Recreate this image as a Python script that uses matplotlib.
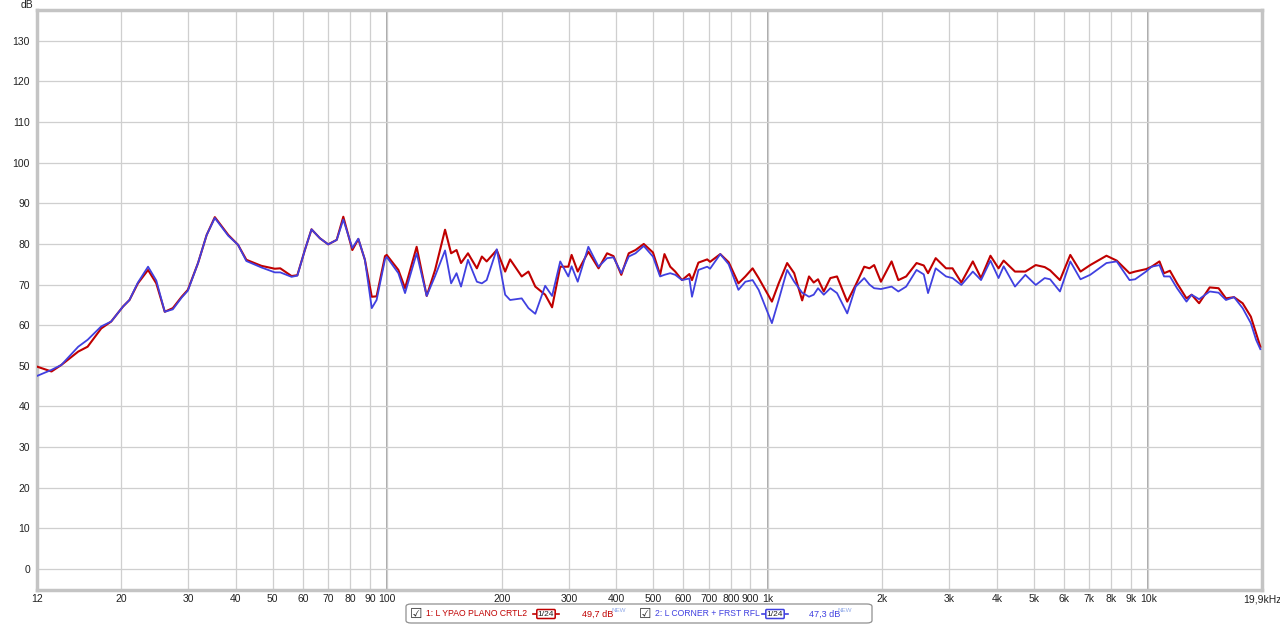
import matplotlib.pyplot as plt
from matplotlib.patches import FancyBboxPatch

# frequency response readings (Hz, dB)
freq = [12.0, 13.1, 13.9, 15.4, 16.3, 17.7, 18.8, 20.2, 21.0, 22.1, 23.5, 24.7, 26.0, 27.3,
        28.8, 29.9, 31.8, 33.5, 35.2, 38.2, 40.5, 42.6, 46.7, 50.6, 52.3, 56.0, 58.0, 60.7,
        63.2, 66.5, 69.9, 73.6, 76.6, 80.9, 83.9, 87.3, 91.0, 93.7, 98.6,
        99.6, 106.9, 111.3, 119.4, 126.9, 133.5, 141.8, 147.1, 152, 156.2, 162.9, 171.9,
        177.2, 182.4, 193.9, 204, 210.2, 225.5, 234.9, 244.8, 259.9, 271, 284.7, 299, 305,
        316.5, 337.5, 359, 378, 393, 412, 431, 449, 472, 499, 521, 535, 554, 571, 595, 622,
        632, 657, 693, 705, 750, 789, 837, 873, 912, 946, 1025, 1068,
        1124, 1173, 1231, 1283, 1320, 1355, 1403, 1460, 1520, 1617, 1702, 1792, 1850, 1903,
        1983, 2115, 2203, 2310, 2460, 2570, 2637, 2762, 2940, 3058, 3226, 3458, 3634, 3847,
        4040, 4167, 4463, 4752, 5060, 5342, 5520, 5859, 6237, 6635, 7037, 7763, 8260, 8926,
        9233, 9864, 10200, 10700, 11000, 11400, 11900, 12600, 13000, 13600, 14500, 15300,
        16000, 16800, 17700, 18600, 19200, 19700]

ypao_db = [49.8, 48.6, 50.2, 53.5, 54.7, 59.2, 60.9, 64.6, 66.2, 70.3, 73.6, 70.3, 63.3, 64.2,
           67.0, 68.7, 75.3, 82.2, 86.6, 82.2, 79.8, 76.1, 74.6, 73.9, 74.0, 72.1, 72.3, 78.5,
           83.6, 81.4, 79.9, 81.0, 86.7, 78.5, 81.2, 76.1, 67.0, 67.1, 77.0,
           77.3, 73.6, 69.1, 79.3, 67.2, 73.6, 83.5, 77.7, 78.5, 75.3, 77.7, 74.0,
           76.9, 75.7, 78.5, 73.2, 76.2, 72.0, 73.2, 69.5, 67.5, 64.4, 74.4, 74.4, 77.3,
           73.2, 78.1, 74.0, 77.7, 77.0, 72.4, 77.7, 78.5, 80.0, 77.9, 72.4, 77.5, 74.4, 73.2, 71.1, 72.6,
           71.1, 75.4, 76.2, 75.6, 77.5, 75.5, 70.3, 72.0, 74.0, 71.6, 65.8, 70.3,
           75.3, 72.8, 66.1, 72.0, 70.5, 71.3, 68.3, 71.6, 72.0, 65.8, 69.9, 74.4, 74.0, 74.8,
           70.7, 75.7, 71.1, 72.0, 75.3, 74.7, 72.8, 76.5, 74.0, 74.0, 70.5, 75.7, 71.6, 77.1,
           74.0, 75.9, 73.2, 73.2, 74.8, 74.3, 73.5, 71.1, 77.3, 73.2, 74.8, 77.1, 75.9, 72.8,
           73.2, 73.8, 74.4, 75.7, 72.8, 73.4, 70.3, 66.6, 67.5, 65.4, 69.3, 69.1,
           66.6, 66.9, 65.4, 62.1, 58.0, 54.7]

corner_db = [47.5, 49.0, 50.2, 54.7, 56.4, 59.7, 60.9, 64.6, 66.2, 70.5, 74.4, 71.0, 63.3, 63.9,
             66.8, 68.5, 75.3, 82.2, 86.4, 82.0, 79.8, 75.8, 74.2, 73.0, 73.0, 71.9, 72.2, 78.5,
             83.6, 81.4, 79.9, 81.0, 86.0, 79.0, 81.3, 76.1, 64.2, 66.2, 76.2,
             76.8, 72.8, 67.9, 77.7, 67.2, 72.1, 78.4, 70.3, 72.8, 69.5, 76.1, 70.7,
             70.3, 71.1, 78.7, 67.5, 66.2, 66.6, 64.2, 62.8, 69.7, 67.2, 75.7, 72.0, 74.5,
             70.7, 79.3, 74.4, 76.5, 76.7, 72.8, 76.9, 77.7, 79.5, 76.9, 72.0, 72.4, 72.8, 72.4, 71.1, 71.5,
             67.0, 73.6, 74.4, 73.9, 77.5, 75.0, 68.7, 70.7, 71.1, 68.7, 60.5, 66.2,
             73.6, 70.7, 68.0, 67.0, 67.5, 69.1, 67.5, 69.1, 67.9, 62.9, 69.5, 71.6, 70.0, 69.1,
             68.9, 69.5, 68.3, 69.5, 73.6, 72.5, 67.9, 74.0, 72.0, 71.6, 69.9, 73.2, 71.1, 75.9,
             71.6, 74.5, 69.5, 72.4, 69.9, 71.6, 71.3, 68.3, 75.7, 71.3, 72.4, 75.3, 75.7, 71.1,
             71.3, 73.2, 74.4, 74.8, 72.0, 72.0, 69.1, 65.8, 67.5, 66.4, 68.3, 68.0,
             66.2, 66.9, 64.2, 60.5, 56.4, 54.1]

tick_freqs = [12, 20, 30, 40, 50, 60, 70, 80, 90, 100, 200, 300, 400, 500, 600, 700, 800, 900,
              1000, 2000, 3000, 4000, 5000, 6000, 7000, 8000, 9000, 10000, 19900]
tick_labels = ['12', '20', '30', '40', '50', '60', '70', '80', '90', '100', '200', '300', '400',
               '500', '600', '700', '800', '900', '1k', '2k', '3k', '4k', '5k', '6k', '7k', '8k',
               '9k', '10k', '19,9kHz']
db_ticks = list(range(0, 140, 10))

plt.rcParams['font.family'] = ['Liberation Sans', 'DejaVu Sans']
W, H = 1280, 626
fig = plt.figure(figsize=(12.8, 6.26), dpi=100)
ax = fig.add_axes([37 / W, 1 - 590 / H, (1262 - 37) / W, 580 / H])
ax.set_xscale('log')
ax.set_xlim(12, 19900)
ax.set_ylim(-5.2, 137.6)

ax.set_xticks(tick_freqs)
ax.set_xticklabels(tick_labels)
ax.xaxis.set_minor_locator(plt.NullLocator())
ax.set_yticks(db_ticks)
ax.tick_params(length=0, labelsize=7.5, colors='#222222')
ax.tick_params(axis='x', pad=3)
ax.tick_params(axis='y', pad=5)
ax.grid(True, color='#cfcfcf', linewidth=0.9)
for f in [100, 1000, 10000]:
    ax.axvline(f, color='#a8a8a8', linewidth=1.4, zorder=1)
for s in ax.spines.values():
    s.set_color('#c4c4c4')
    s.set_linewidth(2.5)

ax.plot(freq, ypao_db, color='#c00000', linewidth=1.5, zorder=3)
ax.plot(freq, corner_db, color='#4040e0', linewidth=1.3, zorder=4)

fig.text(27 / W, 1 - 5 / H, 'dB', fontsize=7.5, ha='center', va='center', color='#222222')


# legend strip
def px(x, y):
    return x / W, 1 - y / H


box = FancyBboxPatch(px(406, 623), 466 / W, 19 / H, boxstyle='round,pad=0,rounding_size=0.004',
                     transform=fig.transFigure, facecolor='white', edgecolor='#909090', linewidth=0.9)
fig.patches.append(box)

entries = [
    (416, '1: L YPAO PLANO CRTL2', '#c00000', 533, '49,7 dB', 582),
    (645, '2: L CORNER + FRST RFL', '#4040e0', 762, '47,3 dB', 809),
]
for cx, label, col, lx, lev, levx in entries:
    fig.text(*px(cx, 614), '\u2611', fontsize=10, ha='center', va='center', color='#333333',
             family='DejaVu Sans')
    fig.text(*px(cx + 10, 614), label, fontsize=6.2, ha='left', va='center', color=col)
    fig.lines.append(plt.Line2D([lx / W, (lx + 26) / W], [1 - 614 / H] * 2,
                                transform=fig.transFigure, color=col, linewidth=1.2))
    fig.text(*px(lx + 13, 614), '1/24', fontsize=6, ha='center', va='center', color='#222222',
             bbox=dict(boxstyle='round,pad=0.12', facecolor='white', edgecolor=col, linewidth=1.1))
    fig.text(*px(levx, 614), lev, fontsize=6.6, ha='left', va='center', color=col)
    fig.text(*px(levx + 29, 610), 'NEW', fontsize=4.5, ha='left', va='center', color='#8fa8e8')

fig.savefig('out.png', dpi=100)
